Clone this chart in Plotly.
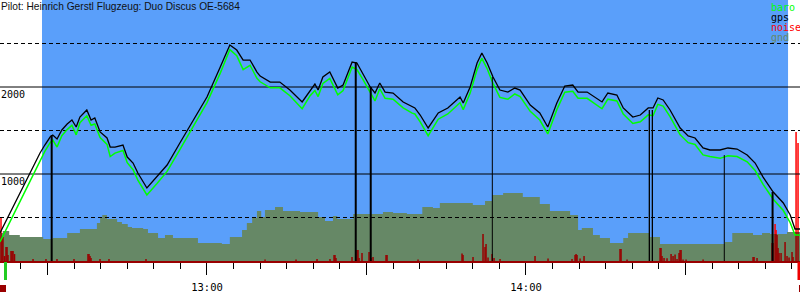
import numpy as np
import plotly.graph_objects as go

# ---------------- data (times in minutes after 12:00, altitudes in m) ----------------
t_start, t_end = 21.07, 171.54          # visible time window
task_start, task_end = 28.97, 169.29    # highlighted (blue) window
takeoff_t, landing_t = 22.1, 171.35
alt_max = 3000

title_text = "Pilot: Heinrich Gerstl Flugzeug: Duo Discus OE-5684"

gps_t = [21.07, 23.5, 26.7, 28.6, 29.5, 30.5, 31.0, 31.8, 32.7, 33.7, 34.6, 35.4, 36.1, 37.4,
         38.2, 38.9, 39.9, 41.2, 41.8, 42.7, 44.2, 45.0, 46.1, 47.0, 48.7, 50.6, 52.5, 54.9,
         57.4, 60.0, 62.5, 64.3, 65.6, 66.8, 68.1, 69.4, 70.0, 71.9, 73.7, 75.6, 77.9, 79.4,
         80.3, 80.9, 81.8, 83.1, 84.6, 85.6, 87.3, 88.2, 89.3, 90.7, 91.6, 92.5, 93.5, 95.0,
         96.9, 98.6, 99.1, 100.1, 101.6, 103.5, 105.3, 107.6, 108.2, 109.5, 110.8, 111.7,
         112.7, 113.8, 115.1, 116.6, 117.9, 118.9, 120.8, 122.6, 124.1, 125.8, 127.3, 128.8,
         129.8, 131.5, 132.4, 134.3, 135.4, 137.1, 138.3, 140.1, 141.5, 143.0, 143.9, 144.8,
         145.8, 147.1, 149.0, 150.5, 151.8, 153.3, 154.6, 156.5, 158.0, 159.7, 161.6, 163.1,
         164.6, 166.5, 168.4, 169.7, 170.6, 171.54]
gps_alt = [322, 621, 1011, 1241, 1333, 1425, 1448, 1402, 1506, 1575, 1621, 1540, 1655, 1736,
           1621, 1644, 1483, 1414, 1310, 1310, 1333, 1195, 1126, 1011, 839, 965, 1103, 1356,
           1621, 1885, 2230, 2483, 2425, 2310, 2310, 2172, 2126, 2057, 2057, 1965, 1828, 1965,
           2034, 1965, 2115, 2172, 1988, 2023, 2287, 2276, 2161, 2000, 1931, 2046, 1942, 1931,
           1828, 1770, 1759, 1678, 1529, 1701, 1759, 1885, 1816, 2000, 2276, 2391,
           2276, 2115, 1965, 1942, 1988, 1965, 1793, 1701, 1540, 1816, 2011, 2023,
           1942, 1942, 1908, 1828, 1931, 1908, 1759, 1655, 1678, 1759, 1759, 1874,
           1851, 1736, 1529, 1437, 1414, 1299, 1276, 1276, 1299, 1287, 1218, 1126,
           965, 793, 667, 529, 368, 368]
baro_alt = [220, 520, 920, 1160, 1260, 1360, 1390, 1310, 1440, 1510, 1560, 1450, 1590, 1670,
            1560, 1575, 1420, 1340, 1200, 1240, 1270, 1130, 1050, 930, 760, 890, 1030, 1280,
            1550, 1820, 2160, 2430, 2360, 2200, 2250, 2100, 2060, 1990, 1990, 1900, 1750, 1900,
            1960, 1890, 2040, 2100, 1910, 1960, 2230, 2200, 2090, 1930, 1840, 1980, 1870, 1860,
            1760, 1700, 1690, 1600, 1440, 1630, 1690, 1820, 1740, 1930, 2200, 2330,
            2210, 2040, 1880, 1860, 1920, 1890, 1720, 1620, 1460, 1740, 1940, 1950,
            1870, 1870, 1830, 1750, 1860, 1840, 1690, 1580, 1600, 1680, 1670, 1800,
            1780, 1660, 1450, 1360, 1340, 1220, 1200, 1180, 1210, 1200, 1140, 1040,
            880, 710, 580, 440, 300, 300]

gnd_t = [21.07, 21.6, 22.8, 24.8, 29.2, 31.0, 33.7, 36.1, 39.3, 39.9, 40.3, 41.2, 43.1, 44.0,
         45.1, 45.9, 48.0, 48.9, 50.8, 52.1, 53.6, 58.3, 62.8, 64.3, 66.6, 67.5, 68.5, 69.4,
         70.2, 70.9, 72.8, 74.3, 77.5, 80.9, 82.2, 83.7, 84.5, 87.5, 93.1, 95.0, 97.6, 100.5,
         102.5, 103.8, 110.0, 112.3, 113.6, 115.7, 119.4, 122.6, 124.5, 128.3, 129.8, 130.5,
         132.6, 133.9, 135.8, 138.3, 139.2, 143.3, 145.2, 157.4, 158.8, 162.7, 164.4, 165.9,
         169.1, 171.54]
gnd_alt = [322, 345, 299, 276, 253, 264, 322, 368, 437, 494, 529, 483, 448, 425,
           391, 379, 368, 322, 264, 299, 264, 207, 195, 276, 356, 437, 494, 575,
           506, 586, 621, 575, 563, 506, 460, 517, 483, 540, 563, 552, 540, 621,
           609, 667, 644, 690, 759, 782, 736, 655, 575, 529, 356, 379,
           299, 264, 207, 264, 322, 276, 195, 218, 322, 299, 322, 310,
           333, 333]

noise_t = [21.26, 21.45, 21.63, 21.92, 22.20, 22.39, 22.57, 23.14, 23.33, 23.52, 23.80, 27.28,
           29.72, 31.79, 34.99, 37.62, 37.81, 38.00, 38.19, 39.88, 41.57, 48.53, 70.92, 76.75,
           80.70, 83.14, 83.90, 84.08, 84.27, 87.28, 88.22, 88.41, 88.60, 89.16, 90.48, 90.86,
           91.23, 93.68, 93.87, 99.70, 107.97, 108.16, 110.04, 111.92, 112.30, 112.49, 112.86,
           113.62, 113.99, 115.12, 121.70, 124.15, 128.66, 129.23, 129.42, 129.60, 130.17,
           130.92, 137.69, 137.88, 139.01, 145.22, 145.40, 145.59, 145.97, 146.53, 147.29,
           147.66, 148.04, 148.41, 148.79, 148.98, 149.17, 149.54, 150.11, 153.31, 162.71,
           162.90, 163.46, 166.29, 166.47, 166.85, 167.04, 167.22, 167.41, 167.60, 167.98,
           168.73, 169.10, 169.48, 170.04, 170.23, 170.80, 171.17]
noise_val = [494, 276, 276, 57, 161, 161, 69, 115, 115, 115, 80, 23,
             23, 23, 23, 80, 80, 57, 34, 23, 23, 23, 17, 17,
             23, 23, 69, 69, 34, 46, 126, 126, 34, 92, 103, 34,
             46, 69, 69, 17, 86, 69, 46, 310, 161, 195, 40,
             80, 34, 23, 57, 29, 23, 69, 80, 69, 29,
             57, 138, 138, 17, 149, 149, 57, 34, 31, 80,
             57, 75, 23, 92, 126, 126, 17, 17, 17, 46,
             46, 34, 207, 207, 425, 356, 299, 149, 92, 92,
             218, 57, 40, 103, 46, 1483, 1356]

marker_t = [30.79, 87.98, 90.80, 113.67, 143.20, 143.77, 157.30, 166.38]
marker_alt = [1448, 2287, 2000, 2115, 1736, 1736, 1218, 793]

grid_solid = [1000, 2000]
grid_dashed = [500, 1500, 2500]
ylabel_vals = [1000, 2000]
ylabel_text = ["1000", "2000"]
xtick_vals = [30, 60, 90, 120, 150]
xtick_text = ["", "13:00", "", "14:00", ""]
legend_names = ["baro", "gps", "noise", "gnd"]

# ---------------- styles ----------------
BLUE = "#5a9ffa"
GND = "#668866"
BARO = "#00ff00"
GPS = "#000000"
NOISE_HI = "#ff0000"
NOISE_LO = "#990000"
marker_widths = [2, 2, 2, 1, 1.3, 1.3, 1, 2]
legend_colors = [BARO, GPS, NOISE_HI, GND]
MONO = "DejaVu Sans Mono"

W, H = 800, 300
MB = 39  # bottom margin (plot area 0..261 px)


def vsegs(ts, hs):
    xs, ys = [], []
    for t, h in zip(ts, hs):
        xs += [t, t, None]
        ys += [0, h, None]
    return xs, ys


def hsegs(levels):
    xs, ys = [], []
    for v in levels:
        xs += [t_start, t_end, None]
        ys += [v, v, None]
    return xs, ys


# noise part hidden inside the ground area is drawn darker
gt = np.array(gnd_t)
ga = np.array(gnd_alt)
idx = np.clip(np.searchsorted(gt, np.array(noise_t), side="right") - 1, 0, len(ga) - 1)
noise_low = np.minimum(np.array(noise_val), ga[idx])

fig = go.Figure()

nx, ny = vsegs(noise_t, noise_val)
fig.add_trace(go.Scatter(x=nx, y=ny, mode="lines", line=dict(color=NOISE_HI, width=1.5),
                         hoverinfo="skip", name="noise"))
fig.add_trace(go.Scatter(x=gnd_t, y=gnd_alt, mode="lines", line=dict(color=GND, width=0, shape="hv"),
                         fill="tozeroy", fillcolor=GND, hoverinfo="skip", name="gnd"))
nx2, ny2 = vsegs(noise_t, noise_low)
fig.add_trace(go.Scatter(x=nx2, y=ny2, mode="lines", line=dict(color=NOISE_LO, width=1.5),
                         hoverinfo="skip", name="noise2"))
gx, gy = hsegs(grid_solid)
fig.add_trace(go.Scatter(x=gx, y=gy, mode="lines", line=dict(color="black", width=1),
                         hoverinfo="skip"))
gx, gy = hsegs(grid_dashed)
fig.add_trace(go.Scatter(x=gx, y=gy, mode="lines",
                         line=dict(color="black", width=1, dash="4px,3px"), hoverinfo="skip"))
fig.add_trace(go.Scatter(x=gps_t, y=baro_alt, mode="lines", line=dict(color=BARO, width=1.5),
                         name="baro"))
fig.add_trace(go.Scatter(x=gps_t, y=gps_alt, mode="lines", line=dict(color=GPS, width=1.3),
                         name="gps"))
for t, a, w in zip(marker_t, marker_alt, marker_widths):
    fig.add_trace(go.Scatter(x=[t, t], y=[0, a], mode="lines", line=dict(color="black", width=w),
                             hoverinfo="skip"))


def tx(t):
    return (t - t_start) / (t_end - t_start)


def py(p):
    return (H - MB - p) / (H - MB)


shapes = [
    dict(type="rect", xref="x", yref="paper", x0=task_start, x1=task_end, y0=0, y1=1,
         fillcolor=BLUE, line=dict(width=0), layer="below"),
    dict(type="rect", xref="paper", yref="paper", x0=tx(takeoff_t) - 1.5 / W, x1=tx(takeoff_t) + 1.5 / W,
         y0=py(280), y1=py(262), fillcolor="#22cc22", line=dict(width=0)),
    dict(type="rect", xref="paper", yref="paper", x0=tx(landing_t) - 1.5 / W, x1=tx(landing_t) + 1.5 / W,
         y0=py(280), y1=py(262), fillcolor="#ee0000", line=dict(width=0)),
    dict(type="rect", xref="paper", yref="paper", x0=tx(t_start), x1=tx(t_start) + 6 / W,
         y0=py(292), y1=py(285), fillcolor=NOISE_LO, line=dict(width=0)),
    dict(type="rect", xref="paper", yref="paper", x0=tx(landing_t), x1=tx(landing_t) + 6 / W,
         y0=py(292), y1=py(285), fillcolor=NOISE_LO, line=dict(width=0)),
]

annotations = [
    dict(text=title_text, xref="paper", yref="paper", x=0, y=1, xanchor="left", yanchor="top",
         showarrow=False, borderpad=0, yshift=0,
         font=dict(family="Liberation Sans", size=10.2, color="#111")),
]
for v, s in zip(ylabel_vals, ylabel_text):
    annotations.append(dict(text=s, xref="paper", yref="y", x=0, y=v, xanchor="left",
                            yanchor="middle", yshift=-7, showarrow=False, borderpad=0,
                            font=dict(family=MONO, size=10, color="black")))
for i, (n, c) in enumerate(zip(legend_names, legend_colors)):
    annotations.append(dict(text=n, xref="paper", yref="paper", x=770 / W, y=1, xanchor="left",
                            yanchor="top", yshift=-1 - 10 * i, showarrow=False, borderpad=0,
                            font=dict(family=MONO, size=10, color=c)))

fig.update_layout(
    width=W, height=H,
    margin=dict(l=0, r=0, t=0, b=MB, pad=0),
    paper_bgcolor="white", plot_bgcolor="white",
    showlegend=False,
    shapes=shapes, annotations=annotations,
    xaxis=dict(range=[t_start, t_end], showgrid=False, zeroline=False,
               showline=True, linecolor=NOISE_LO, linewidth=2,
               tickmode="array", tickvals=xtick_vals, ticktext=xtick_text,
               ticks="outside", ticklen=12, tickwidth=1, tickcolor="black",
               tickfont=dict(family=MONO, size=10.5, color="black"),
               ticklabelstandoff=3,
               minor=dict(tickmode="linear", tick0=0, dtick=5, ticks="outside", ticklen=6,
                          tickwidth=1, tickcolor="black", showgrid=False),
               fixedrange=True),
    yaxis=dict(range=[0, alt_max], showgrid=False, zeroline=False, showline=False,
               showticklabels=False, ticks="", fixedrange=True),
)

fig.write_html("out.html")
